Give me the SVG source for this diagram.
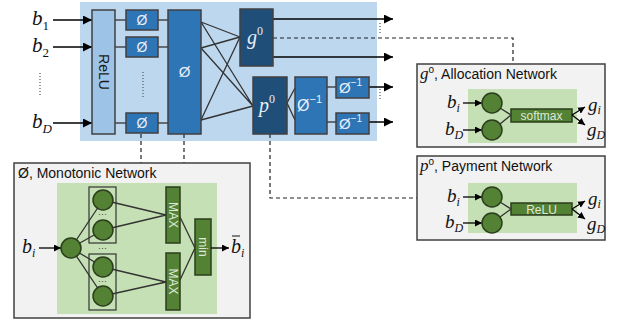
<svg xmlns="http://www.w3.org/2000/svg" width="623" height="324" viewBox="0 0 623 324">
<defs>
<marker id="ah" viewBox="0 0 10 10" refX="10" refY="5" markerWidth="7" markerHeight="7" markerUnits="userSpaceOnUse" orient="auto"><path d="M0,0 L10,5 L0,10 z" fill="#000"/></marker>
<marker id="ahb" viewBox="0 0 10 10" refX="10" refY="5" markerWidth="9" markerHeight="9" markerUnits="userSpaceOnUse" orient="auto"><path d="M0,0 L10,5 L0,10 z" fill="#000"/></marker>
</defs>
<style>
.bg{fill:#bdd7ee}
.relu{fill:#9dc3e6;stroke:#404040;stroke-width:1.5}
.mid{fill:#2e75b6;stroke:#404040;stroke-width:1.5}
.dark{fill:#1f4e79;stroke:#404040;stroke-width:1.5}
.panel{fill:#f2f2f2;stroke:#404040;stroke-width:1.5}
.green{fill:#c5e0b4}
.gbox{fill:#548235;stroke:#2b3d1d;stroke-width:1.5}
.circ{fill:#548235;stroke:#2b3d1d;stroke-width:1.5}
.grp{fill:none;stroke:#333;stroke-width:1.2}
.ln{stroke:#333;stroke-width:1.3;fill:none}
.arr{stroke:#000;stroke-width:1.5;fill:none;marker-end:url(#ahb)}
.arrs{stroke:#000;stroke-width:1.3;fill:none;marker-end:url(#ah)}
.dash{stroke:#222;stroke-width:1.2;stroke-dasharray:4,3;fill:none}
.dots{stroke:#555;stroke-width:1.2;stroke-dasharray:1,2;fill:none}
.math{font-family:"Liberation Serif",serif;font-style:italic;fill:#111}
.up{font-style:normal}
.wt{font-family:"Liberation Sans",sans-serif;fill:#e8eef6}
.wm{font-family:"Liberation Serif",serif;font-style:italic;fill:#e8eef6}
.ttl{font-family:"Liberation Sans",sans-serif;font-size:14px;fill:#111}
.gt{font-family:"Liberation Sans",sans-serif;font-size:12px;fill:#dfe8d8}
.rot{font-family:"Liberation Sans",sans-serif;font-size:12px;fill:#dfe8d8}
</style>

<rect class="bg" x="80" y="2" width="297" height="139"/>

<g id="connectors">
<line class="arr" x1="53" y1="20" x2="92" y2="20"/>
<line class="arr" x1="53" y1="47" x2="92" y2="47"/>
<line class="arr" x1="53" y1="123" x2="92" y2="123"/>
<line class="ln" x1="115" y1="20" x2="126" y2="20"/>
<line class="ln" x1="115" y1="47" x2="126" y2="47"/>
<line class="ln" x1="115" y1="123" x2="126" y2="123"/>
<line class="ln" x1="158" y1="20" x2="168" y2="20"/>
<line class="ln" x1="158" y1="47" x2="168" y2="47"/>
<line class="ln" x1="158" y1="123" x2="168" y2="123"/>
<path class="ln" d="M201,22 L240,37 M201,48 L240,37 M201,120 L240,37 M201,22 L253,106 M201,48 L253,106 M201,120 L253,106"/>
<path class="ln" d="M295,88 L287,103 L295,120"/>
<line class="ln" x1="327" y1="87" x2="336" y2="87"/>
<line class="ln" x1="327" y1="122" x2="336" y2="122"/>
<line class="arr" x1="273" y1="19" x2="393" y2="19"/>
<line class="arr" x1="273" y1="57" x2="393" y2="57"/>
<line class="arr" x1="369" y1="87" x2="393" y2="87"/>
<line class="arr" x1="369" y1="122" x2="393" y2="122"/>
<line class="dots" x1="40" y1="73" x2="40" y2="97"/>
<line class="dots" x1="143" y1="72" x2="143" y2="97"/>
<line class="dots" x1="380" y1="23" x2="380" y2="34"/>
<line class="dots" x1="380" y1="89" x2="380" y2="99"/>
<path class="dash" d="M273,38 L513,38 L513,64"/>
<path class="dash" d="M270,134 L270,198 L417,198"/>
<line class="dash" x1="141" y1="134" x2="141" y2="163"/>
<line class="dash" x1="184" y1="134" x2="184" y2="163"/>
</g>

<g id="input-labels">
<text class="math" x="32" y="25" font-size="21">b<tspan class="up" font-size="13" dy="5">1</tspan></text>
<text class="math" x="32" y="52" font-size="21">b<tspan class="up" font-size="13" dy="5">2</tspan></text>
<text class="math" x="32" y="128" font-size="21">b<tspan font-size="13" dy="5">D</tspan></text>
</g>

<g id="relu">
<rect class="relu" x="92" y="10" width="23" height="124"/>
<text x="103.5" y="72" transform="rotate(90 103.5 72)" text-anchor="middle" dominant-baseline="central" font-family="Liberation Sans, sans-serif" font-size="14" fill="#1a1a1a">ReLU</text>
</g>

<g id="phi1"><rect class="mid" x="126" y="10" width="32" height="20"/><text class="wt" x="142" y="25" font-size="14" text-anchor="middle">Ø</text></g>
<g id="phi2"><rect class="mid" x="126" y="37" width="32" height="20"/><text class="wt" x="142" y="52" font-size="14" text-anchor="middle">Ø</text></g>
<g id="phiD"><rect class="mid" x="126" y="113" width="32" height="20"/><text class="wt" x="142" y="128" font-size="14" text-anchor="middle">Ø</text></g>
<g id="phiBig"><rect class="mid" x="168" y="10" width="33" height="124"/><text class="wt" x="184.5" y="77" font-size="15" text-anchor="middle">Ø</text></g>

<g id="g0"><rect class="dark" x="240" y="9" width="33" height="57"/><text class="wm" x="247" y="44" font-size="20">g<tspan font-size="12" dy="-9" font-style="normal">0</tspan></text></g>
<g id="p0"><rect class="dark" x="253" y="77" width="34" height="57"/><text class="wm" x="259" y="112" font-size="20">p<tspan font-size="12" dy="-9" font-style="normal">0</tspan></text></g>
<g id="phiInvBig"><rect class="mid" x="295" y="77" width="32" height="57"/><text class="wt" x="297" y="111" font-size="16">Ø<tspan font-size="11" dy="-8">−1</tspan></text></g>
<g id="phiInv1"><rect class="mid" x="336" y="77" width="33" height="21"/><text class="wt" x="339" y="93" font-size="15">Ø<tspan font-size="10" dy="-7">−1</tspan></text></g>
<g id="phiInv2"><rect class="mid" x="336" y="113" width="33" height="21"/><text class="wt" x="339" y="129" font-size="15">Ø<tspan font-size="10" dy="-7">−1</tspan></text></g>

<g id="allocation-network">
<rect class="panel" x="417" y="64" width="188" height="83"/>
<text class="ttl" x="420" y="79"><tspan font-family="Liberation Serif, serif" font-style="italic" font-size="17">g</tspan><tspan font-size="10" dy="-6">o</tspan><tspan dy="6">, Allocation Network</tspan></text>
<rect class="green" x="468" y="89" width="109" height="54"/>
<line class="arrs" x1="463" y1="103" x2="482" y2="103"/>
<line class="arrs" x1="463" y1="130" x2="482" y2="130"/>
<path class="ln" d="M500,108 L511,115 L500,124"/>
<circle class="circ" cx="492" cy="103" r="10"/>
<circle class="circ" cx="492" cy="130" r="10"/>
<rect class="gbox" x="511" y="109" width="61" height="13"/>
<text class="gt" x="541.5" y="120" text-anchor="middle">softmax</text>
<line class="arrs" x1="572" y1="115" x2="585" y2="107"/>
<line class="arrs" x1="572" y1="115" x2="585" y2="125"/>
<text class="math" x="447" y="108" font-size="19">b<tspan font-size="12" dy="4">i</tspan></text>
<text class="math" x="445" y="135" font-size="19">b<tspan font-size="12" dy="4">D</tspan></text>
<text class="math" x="588" y="111" font-size="19">g<tspan font-size="12" dy="3">i</tspan></text>
<text class="math" x="587" y="136" font-size="19">g<tspan font-size="12" dy="3">D</tspan></text>
</g>

<g id="payment-network">
<rect class="panel" x="417" y="156" width="188" height="84"/>
<text class="ttl" x="420" y="171"><tspan font-family="Liberation Serif, serif" font-style="italic" font-size="17">p</tspan><tspan font-size="10" dy="-6">o</tspan><tspan dy="6">, Payment Network</tspan></text>
<rect class="green" x="468" y="183" width="109" height="50"/>
<line class="arrs" x1="463" y1="197" x2="482" y2="197"/>
<line class="arrs" x1="463" y1="223" x2="482" y2="223"/>
<path class="ln" d="M500,202 L511,209 L500,217"/>
<circle class="circ" cx="492" cy="197" r="10"/>
<circle class="circ" cx="492" cy="223" r="10"/>
<rect class="gbox" x="511" y="203" width="61" height="12"/>
<text class="gt" x="541.5" y="213.5" text-anchor="middle">ReLU</text>
<line class="arrs" x1="572" y1="209" x2="585" y2="201"/>
<line class="arrs" x1="572" y1="209" x2="585" y2="219"/>
<text class="math" x="447" y="202" font-size="19">b<tspan font-size="12" dy="4">i</tspan></text>
<text class="math" x="445" y="228" font-size="19">b<tspan font-size="12" dy="4">D</tspan></text>
<text class="math" x="588" y="205" font-size="19">g<tspan font-size="12" dy="3">i</tspan></text>
<text class="math" x="587" y="230" font-size="19">g<tspan font-size="12" dy="3">D</tspan></text>
</g>

<g id="monotonic-network">
<rect class="panel" x="14" y="163" width="236" height="155"/>
<text class="ttl" x="18" y="178">Ø, Monotonic Network</text>
<rect class="green" x="57" y="183" width="160" height="131"/>
<line class="arrs" x1="39" y1="248" x2="61" y2="248"/>
<path class="ln" d="M71,248 L103,200 M71,248 L103,230 M71,248 L103,267 M71,248 L103,296"/>
<path class="ln" d="M103,200 L166,215 M103,230 L166,215 M103,267 L166,282 M103,296 L166,282"/>
<path class="ln" d="M180,217 L195,248 L180,280"/>
<rect class="grp" x="89" y="187" width="27" height="56"/>
<rect class="grp" x="89" y="254" width="27" height="56"/>
<circle class="circ" cx="71" cy="248" r="10"/>
<circle class="circ" cx="103" cy="200" r="10"/>
<circle class="circ" cx="103" cy="230" r="10"/>
<circle class="circ" cx="103" cy="267" r="10"/>
<circle class="circ" cx="103" cy="296" r="10"/>
<text x="102.5" y="217" font-family="Liberation Sans, sans-serif" font-size="9" fill="#444" text-anchor="middle">···</text>
<text x="102.5" y="251" font-family="Liberation Sans, sans-serif" font-size="9" fill="#444" text-anchor="middle">···</text>
<text x="102.5" y="284" font-family="Liberation Sans, sans-serif" font-size="9" fill="#444" text-anchor="middle">···</text>
<rect class="gbox" x="166" y="187" width="14" height="56"/>
<text class="rot" x="173" y="215" transform="rotate(90 173 215)" text-anchor="middle" dominant-baseline="central">MAX</text>
<rect class="gbox" x="166" y="253" width="14" height="57"/>
<text class="rot" x="173" y="281.5" transform="rotate(90 173 281.5)" text-anchor="middle" dominant-baseline="central">MAX</text>
<rect class="gbox" x="195" y="219" width="16" height="56"/>
<text class="rot" x="203" y="247" transform="rotate(90 203 247)" text-anchor="middle" dominant-baseline="central">min</text>
<line class="arrs" x1="211" y1="248" x2="229" y2="248"/>
<text class="math" x="22" y="253" font-size="20">b<tspan font-size="12" dy="4">i</tspan></text>
<text class="math" x="231" y="253" font-size="20">b<tspan font-size="12" dy="4">i</tspan></text>
<line x1="232" y1="236" x2="240" y2="236" stroke="#111" stroke-width="1"/>
</g>
</svg>
